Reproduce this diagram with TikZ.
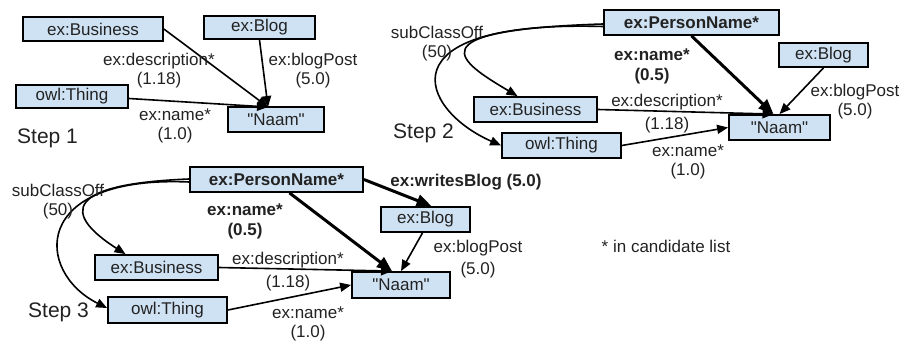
\documentclass[tikz,border=0pt]{standalone}
\usepackage{fontspec}
\setmainfont{Liberation Sans}[Ligatures=TeXOff]
\usetikzlibrary{arrows.meta,calc}
\definecolor{boxfill}{RGB}{207,226,243}
\definecolor{txt}{RGB}{34,34,34}
\newcommand{\naamtext}{"Naam"}
\begin{document}
\begin{tikzpicture}[x=1pt,y=-1pt,
 box/.style={draw=black,line width=1.8pt,fill=boxfill,inner sep=0pt,text=txt,font=\fontsize{17}{19}\selectfont},
 lbl/.style={inner sep=0pt,align=center,text=txt,font=\fontsize{17}{19}\selectfont},
 blbl/.style={inner sep=0pt,align=center,text=txt,font=\fontsize{17}{20}\selectfont\bfseries},
 steplbl/.style={inner sep=0pt,anchor=west,text=txt,font=\fontsize{21}{24}\selectfont},
 conn/.style={line width=1.6pt,-{Triangle[length=11pt,width=9pt]}},
 tconn/.style={line width=3pt,-{Triangle[length=15pt,width=12pt]}},
]
\useasboundingbox (0,0) rectangle (903,342);

% ---------- Step 1 ----------
\node[box,minimum width=140pt,minimum height=24pt] (b1biz) at (93,29) {ex:Business};
\node[box,minimum width=111pt,minimum height=23pt] (b1blog) at (259.5,27.5) {ex:Blog};
\node[box,minimum width=112pt,minimum height=23pt] (b1thing) at (72,96.5) {owl:Thing};
\node[box,minimum width=96pt,minimum height=25pt] (b1naam) at (276,119.5) {\naamtext};
\coordinate (c1) at (268,107);
\draw[conn] (b1biz.east) -- (c1);
\draw[conn] (b1blog.south) -- (c1);
\draw[conn] ($(b1thing.east)+(0,2)$) -- (c1);
\node[lbl] (l1desc) at (159,70.5) {ex:description*\\(1.18)};
\node[lbl] (l1blog) at (313,70.5) {ex:blogPost\\(5.0)};
\node[lbl] (l1name) at (175,125.5) {ex:name*\\(1.0)};
\node[steplbl] (s1) at (17,138) {Step 1};

% ---------- Step 2 ----------
\node[box,minimum width=175pt,minimum height=25pt] (b2pn) at (691.5,22.5) {\bfseries ex:PersonName*};
\node[box,minimum width=89pt,minimum height=24pt] (b2blog) at (823.5,55) {ex:Blog};
\node[box,minimum width=123pt,minimum height=25pt] (b2biz) at (535.5,109.5) {ex:Business};
\node[box,minimum width=119pt,minimum height=25pt] (b2thing) at (561.5,145.5) {owl:Thing};
\node[box,minimum width=101pt,minimum height=25pt] (b2naam) at (779.5,127.5) {\naamtext};
\coordinate (c2) at ($(b2naam.north)+(-6,0)$);
\draw[conn] (b2biz.east) -- (c2);
\draw[tconn] (b2pn.south) -- (c2);
\draw[conn] (b2blog.south) -- (b2naam.north);
\draw[conn] (b2thing.east) -- (b2naam.west);
\draw[conn] ($(b2pn.west)+(0,1.5)$) .. controls (410,30) and (460,62) .. ($(b2biz.north)+(-18,0)$);
\draw[conn] ($(b2pn.west)+(0,4)$) .. controls (380,20) and (420,110) .. (b2thing.west);
\node[lbl] (l2sub) at (437,43.5) {subClassOff\\(50)};
\node[blbl] (l2pname) at (652,66) {ex:name*\\(0.5)};
\node[lbl] (l2blog) at (855,102) {ex:blogPost\\(5.0)};
\node[lbl] (l2desc) at (667,113.5) {ex:description*\\[4pt](1.18)};
\node[lbl] (l2name) at (688,162) {ex:name*\\(1.0)};
\node[steplbl] (s2) at (393,133) {Step 2};

% ---------- Step 3 ----------
\node[box,minimum width=173pt,minimum height=25pt] (b3pn) at (276.5,179.5) {\bfseries ex:PersonName*};
\node[box,minimum width=89pt,minimum height=25pt] (b3blog) at (425.5,219.5) {ex:Blog};
\node[box,minimum width=123pt,minimum height=25pt] (b3biz) at (156.5,267.5) {ex:Business};
\node[box,minimum width=119pt,minimum height=26pt] (b3thing) at (167.5,310) {owl:Thing};
\node[box,minimum width=98pt,minimum height=26pt] (b3naam) at (401,285) {\naamtext};
\coordinate (c3) at ($(b3naam.north)+(-9,0)$);
\draw[conn] (b3biz.east) -- (c3);
\draw[tconn] ($(b3pn.south)+(13,0)$) -- (c3);
\draw[tconn] (b3pn.east) -- ($(b3blog.north)+(6,0)$);
\draw[conn] ($(b3blog.south)+(-3,0)$) -- (b3naam.north);
\draw[conn] (b3thing.east) -- (b3naam.west);
\draw[conn] ($(b3pn.west)+(0,-0.5)$) .. controls (40,185) and (80,225) .. ($(b3biz.north)+(-31,0)$);
\draw[conn] ($(b3pn.west)+(0,2.5)$) .. controls (30,175) and (35,272) .. ($(b3thing.west)+(0,-2)$);
\node[lbl] (l3sub) at (58,201.5) {subClassOff\\(50)};
\node[blbl] (l3pname) at (245,221) {ex:name*\\(0.5)};
\node[blbl] (l3writes) at (466,182) {ex:writesBlog (5.0)};
\node[lbl] (l3desc) at (288,271.5) {ex:description*\\[4pt](1.18)};
\node[lbl] (l3name) at (308,324) {ex:name*\\(1.0)};
\node[lbl] (l3blog) at (478,259) {ex:blogPost\\[3pt](5.0)};
\node[lbl] (note) at (666,246) {* in candidate list};
\node[steplbl] (s3) at (28,312) {Step 3};
\end{tikzpicture}
\end{document}
